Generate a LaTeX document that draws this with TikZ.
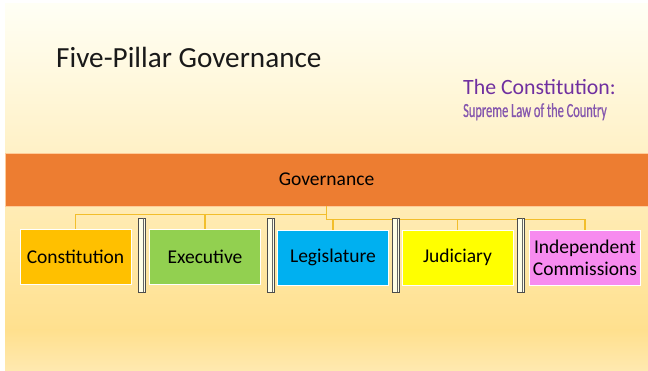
\documentclass[tikz,border=0pt]{standalone}
\usepackage{fontspec}
\setmainfont{Carlito}
\newfontfamily\narrowfont{Carlito}[FakeStretch=0.62, FakeBold=0.6]
\usepackage{xcolor}
\usepackage{tikz}
\usetikzlibrary{positioning}

\definecolor{bandorange}{HTML}{ED7D31}
\definecolor{conyellow}{HTML}{FFC000}
\definecolor{exegreen}{HTML}{92D050}
\definecolor{legblue}{HTML}{00B0F0}
\definecolor{judyellow}{HTML}{FFFF00}
\definecolor{indpink}{HTML}{F78BEF}
\definecolor{linkgold}{HTML}{F2BE2C}
\definecolor{headpurple}{HTML}{7030A0}
\definecolor{subpurple}{HTML}{8557AE}

\begin{document}
\begin{tikzpicture}[x=1pt, y=-1pt,
    pillarbox/.style={draw=white, line width=0.8pt, minimum width=111pt, minimum height=55pt,
      inner sep=0pt, align=center, font=\fontsize{19.5}{21.5}\selectfont},
    link/.style={linkgold, line width=1.3pt},
    divider/.style={draw=black!70, fill=yellow!10, line width=0.6pt}]
      \useasboundingbox (0,0) rectangle (648,371);

      % Draw the slide background
      \fill[white] (0,0) rectangle (648,371);
      \shade[top color=white!60!yellow!10, bottom color={rgb,255:red,255;green,224;blue,142}]
        (5,4) rectangle (648,330);
      \shade[top color={rgb,255:red,255;green,224;blue,142}, bottom color={rgb,255:red,255;green,233;blue,176}]
        (5,330) rectangle (648,371);

      % Title and caption
      \node[anchor=base west, inner sep=0pt, font=\fontsize{29.2}{32}\selectfont, text=black!90] (title) at (56,68)
        {Five-Pillar Governance};
      \node[anchor=base west, inner sep=0pt, font=\fontsize{21.8}{24}\selectfont, text=headpurple] (head) at (463,95)
        {The Constitution:};
      \node[anchor=base west, inner sep=0pt, font=\narrowfont\fontsize{20}{22}\selectfont, text=subpurple] (sub) at (463,117)
        {Supreme Law of the Country};

      % Draw the governance band
      \node[fill=bandorange, draw=orange!40, line width=0.6pt, minimum width=643pt, minimum height=53pt,
        inner sep=0pt, font=\fontsize{19.5}{22}\selectfont] (gov) at (326.5,179.5) {Governance};

      % Draw the five pillars
      \node[pillarbox, fill=conyellow] (con) at (75.5,257) {Constitution};
      \node[pillarbox, fill=exegreen]  (exe) at (205,257) {Executive};
      \node[pillarbox, fill=legblue]   (leg) at (333,257.5) {Legislature};
      \node[pillarbox, fill=judyellow] (jud) at (457.5,257.5) {Judiciary};
      \node[pillarbox, fill=indpink]   (ind) at (585,258) {Independent\\Commissions};

      % Connect the band to the pillars
      \foreach \p in {con,exe} {
        \draw[link] (gov.south) -- ++(0,8) -| (\p.north);
      }
      \foreach \p in {leg,jud,ind} {
        \draw[link] (gov.south) -- ++(0,13) -| (\p.north);
      }

      % Draw the dividers between pillars
      \foreach \x [count=\i] in {142,271,396,521} {
        \coordinate (d\i) at (\x,218);
        \draw[divider] (\x-3.5,218) rectangle (\x+3.5,292);
        \draw[black!60, line width=0.5pt] (\x+1,218) -- (\x+1,292);
      }

    \end{tikzpicture}
\end{document}
